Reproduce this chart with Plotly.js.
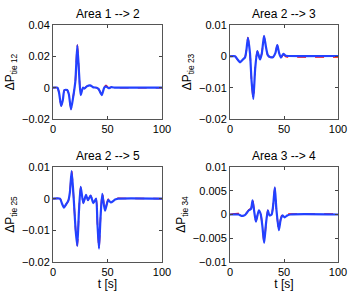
<!DOCTYPE html>
<html>
<head>
<meta charset="utf-8">
<script src="https://cdn.plot.ly/plotly-3.0.1.min.js"></script>
<style>html,body{margin:0;padding:0;background:#fff;}#chart{width:350px;height:291px;}</style>
</head>
<body>
<div id="chart"></div>
<script>
// ---- Data ----
const titles = ["Area 1 --> 2", "Area 2 --> 3", "Area 2 --> 5", "Area 3 --> 4"];
const yTitles = ["ΔP<sub>tie 12</sub>", "ΔP<sub>tie 23</sub>", "ΔP<sub>tie 25</sub>", "ΔP<sub>tie 34</sub>"];

const t12 = [0, 4, 5.5, 7.5, 9, 10.5, 13, 14.5, 16.5, 18.5, 20.5, 22.3, 24, 25.4, 27.5, 29, 31, 34, 37, 40, 42, 44.7, 47, 48.6, 51, 53.5, 57, 60, 100];
const blue12 = [0, 0, -0.003, -0.0117, -0.008, -0.0015, -0.0015, -0.004, -0.0138, -0.006, 0.004, 0.027, 0.008, -0.0047, 0, -0.0005, 0.0008, 0.0015, 0.0002, 0, -0.001, -0.0047, 0, 0.0008, -0.0003, 0.0003, 0, 0, 0];
const red12 = [0, 0, -0.003, -0.0115, -0.008, -0.0015, -0.0015, -0.004, -0.0136, -0.006, 0.004, 0.0275, 0.008, -0.0045, 0, -0.0005, 0.0008, 0.0016, 0.0002, 0, -0.001, -0.0045, 0, 0.0016, -0.0002, 0.0004, 0.0001, 0, 0];

const t23 = [0, 4.6, 7, 9.3, 12, 13.9, 15.2, 16.6, 18.5, 20, 21.6, 23.3, 25.3, 27.8, 29.5, 31.5, 33.3, 35, 37.5, 40, 42, 43.8, 45.5, 47.2, 49.4, 51.5, 54, 100];
const blue23 = [0, 0, -0.001, -0.0019, -0.001, -0.0004, 0.002, 0.0059, 0.001, -0.008, -0.0136, -0.004, 0.0017, -0.001, 0.001, 0.0065, 0.003, 0.0004, -0.0003, -0.0002, 0.001, 0.0036, 0.001, -0.0004, 0.0008, 0.0002, 0.0001, 0.0001];
const red23 = [0, 0, -0.001, -0.0018, -0.001, -0.0003, 0.002, 0.006, 0.001, -0.008, -0.0138, -0.004, 0.0016, -0.001, 0.001, 0.0064, 0.003, 0.0003, -0.0003, -0.0002, 0.001, 0.0035, 0.0009, -0.0004, 0.0006, -0.0001, -0.0002, -0.0002];

const t25 = [0, 6.4, 8.2, 10.1, 12, 14, 15.5, 17.1, 19, 20.8, 22.3, 23.8, 25.4, 27.8, 30.3, 32, 34.5, 37, 39.5, 40.8, 42.2, 43.6, 45.2, 47.7, 50.7, 53, 57, 60, 100];
const blue25 = [0, 0, -0.0015, -0.0028, -0.0018, -0.0007, 0.002, 0.0087, 0.0, -0.01, -0.0149, -0.004, 0.0037, -0.0014, 0.0012, -0.0005, 0.001, -0.0014, 0.0, -0.008, -0.0158, -0.006, 0.0015, -0.0038, -0.0004, -0.0012, -0.0003, 0, 0];
const red25 = [0, 0, -0.0015, -0.0027, -0.0018, -0.0007, 0.002, 0.0086, 0.0, -0.01, -0.0148, -0.004, 0.0036, -0.0013, 0.0012, -0.0005, 0.001, -0.0013, 0.0, -0.008, -0.0156, -0.006, 0.0019, -0.0035, -0.0002, -0.0006, 0.0001, 0.0001, 0];

const t34 = [0, 8, 10.7, 13, 14.4, 17.5, 19.5, 20.9, 22.5, 24, 26.7, 28.5, 30, 31.6, 33.3, 35, 36.5, 38.5, 40, 41.5, 43, 45.2, 47, 48.5, 50.6, 53, 56, 100];
const blue34 = [0, 0, -0.0003, -0.0002, 0, 0.0009, 0.0012, 0.003, 0.0005, -0.0015, 0.0009, 0.0, -0.0025, -0.006, -0.002, 0.0009, -0.0002, 0.0, 0.002, 0.0057, 0.001, -0.0033, -0.001, -0.0002, -0.0006, -0.0002, 0, 0];
const red34 = [0, 0.0002, -0.0002, -0.0003, 0, 0.001, 0.0013, 0.0032, 0.0006, -0.0014, 0.0009, 0.0, -0.0025, -0.0059, -0.002, 0.0009, -0.0002, 0.0, 0.002, 0.0056, 0.001, -0.0032, -0.0009, 0.0001, -0.0004, 0.0001, 0.0001, 0.0001];

const xTickVals = [0, 50, 100];
const xTickText = ["0", "50", "100"];
const yTickVals12 = [-0.02, 0, 0.02, 0.04];
const yTickText12 = ["−0.02", "0", "0.02", "0.04"];
const yTickVals23 = [-0.02, -0.01, 0, 0.01];
const yTickText23 = ["−0.02", "−0.01", "0", "0.01"];
const yTickVals25 = [-0.02, -0.01, 0, 0.01];
const yTickText25 = ["−0.02", "−0.01", "0", "0.01"];
const yTickVals34 = [-0.01, -0.005, 0, 0.005, 0.01];
const yTickText34 = ["−0.01", "−0.005", "0", "0.005", "0.01"];

// ---- Styles ----
const BLUE = "rgb(35,65,255)";
const RED = "rgb(255,0,0)";
const FONT = "Liberation Sans, Arial, sans-serif";

const panels = [
  {t: t12, b: blue12, r: red12},
  {t: t23, b: blue23, r: red23},
  {t: t25, b: blue25, r: red25},
  {t: t34, b: blue34, r: red34}
];

const traces = [];
panels.forEach((p, i) => {
  const xa = i === 0 ? "x" : "x" + (i + 1);
  const ya = i === 0 ? "y" : "y" + (i + 1);
  traces.push({x: p.t, y: p.r, xaxis: xa, yaxis: ya, type: "scatter", mode: "lines",
    line: {color: RED, width: 1.5, dash: "dash", shape: "spline", smoothing: 0.6}, showlegend: false, hoverinfo: "skip"});
  traces.push({x: p.t, y: p.b, xaxis: xa, yaxis: ya, type: "scatter", mode: "lines",
    line: {color: BLUE, width: 2.2, shape: "spline", smoothing: 0.6}, showlegend: false, hoverinfo: "skip"});
});

const W = 350, H = 291;
const xDom = [[53 / W, 162 / W], [230 / W, 338 / W]];
const yDom = [[1 - 119 / H, 1 - 25 / H], [1 - 262 / H, 1 - 167 / H]];

const yTicks = [[yTickVals12, yTickText12, [-0.02, 0.04]], [yTickVals23, yTickText23, [-0.02, 0.01]],
                [yTickVals25, yTickText25, [-0.02, 0.01]], [yTickVals34, yTickText34, [-0.01, 0.01]]];

const layout = {
  width: W, height: H,
  margin: {l: 0, r: 0, t: 0, b: 0},
  paper_bgcolor: "#fff", plot_bgcolor: "#fff",
  font: {family: FONT, size: 11, color: "#000"},
  showlegend: false,
  annotations: []
};

for (let i = 0; i < 4; i++) {
  const col = i % 2, row = Math.floor(i / 2);
  const suffix = i === 0 ? "" : String(i + 1);
  const xa = {
    domain: xDom[col], range: [0, 100], tickmode: "array", tickvals: xTickVals, ticktext: xTickText,
    ticks: "inside", ticklen: 3, tickcolor: "#444", showline: true, linecolor: "#555", linewidth: 1,
    mirror: "ticks", showgrid: false, zeroline: false, anchor: "y" + suffix,
    tickfont: {family: FONT, size: 11, color: "#000"}
  };
  if (row === 1) xa.title = {text: "t [s]", font: {family: FONT, size: 12, color: "#000"}, standoff: 0};
  const ya = {
    domain: yDom[row], range: yTicks[i][2], tickmode: "array", tickvals: yTicks[i][0], ticktext: yTicks[i][1],
    ticks: "inside", ticklen: 3, tickcolor: "#444", showline: true, linecolor: "#555", linewidth: 1,
    mirror: "ticks", showgrid: false, zeroline: false, anchor: "x" + suffix,
    tickfont: {family: FONT, size: 11, color: "#000"},
    title: {text: yTitles[i], font: {family: FONT, size: 12, color: "#000"}, standoff: 4}
  };
  layout["xaxis" + suffix] = xa;
  layout["yaxis" + suffix] = ya;
  layout.annotations.push({
    text: titles[i], xref: "paper", yref: "paper",
    x: (xDom[col][0] + xDom[col][1]) / 2, y: yDom[row][1], yanchor: "bottom", xanchor: "center",
    yshift: 2, showarrow: false, font: {family: FONT, size: 12, color: "#000"}
  });
}

Plotly.newPlot("chart", traces, layout, {staticPlot: true, displayModeBar: false});
</script>
</body>
</html>
